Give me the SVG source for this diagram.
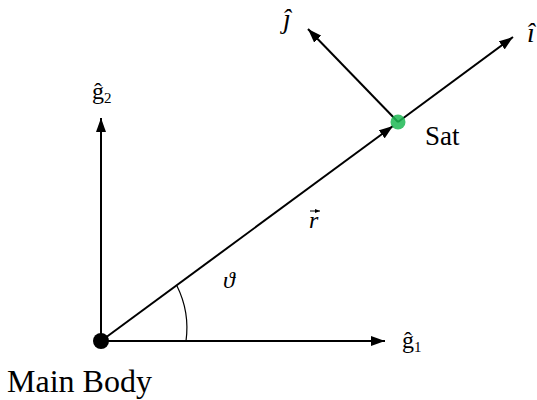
<svg xmlns="http://www.w3.org/2000/svg" width="537" height="400" viewBox="0 0 537 400">
<defs>
<style>
.ax{stroke:#000;stroke-width:2;fill:none}
.lbl{fill:#000}
</style>
<marker id="ah" viewBox="0 0 14 10" refX="14" refY="5" markerWidth="14" markerHeight="10" markerUnits="userSpaceOnUse" orient="auto">
<path d="M0,0 L14,5 L0,10 z" fill="#000"/>
</marker>
<marker id="vec" viewBox="0 0 5 4" refX="5" refY="2" markerWidth="5" markerHeight="4" markerUnits="userSpaceOnUse" orient="auto">
<path d="M0,0 L5,2 L0,4 z" fill="#000"/>
</marker>
</defs>
<rect width="537" height="400" fill="#fff"/>
<g id="connectors">
<line class="ax" x1="101" y1="341" x2="385" y2="341" marker-end="url(#ah)"/>
<line class="ax" x1="101" y1="341" x2="101" y2="118" marker-end="url(#ah)"/>
<line class="ax" x1="101" y1="341" x2="393" y2="126" marker-end="url(#ah)"/>
<line class="ax" x1="398" y1="122" x2="513" y2="37" marker-end="url(#ah)"/>
<line class="ax" x1="398" y1="122" x2="308" y2="29" marker-end="url(#ah)"/>
<path d="M186,341 A95,95 0 0 0 177,286" stroke="#000" stroke-width="1.2" fill="none"/>
</g>
<g id="main-body">
<circle cx="101" cy="341" r="8" fill="#000"/>
<text class="lbl" font-family="'Liberation Serif', 'Times New Roman', serif" x="7" y="392" font-size="32">Main Body</text>
</g>
<g id="sat">
<circle cx="398" cy="122" r="7.5" fill="#1db954" opacity="0.85"/>
<text class="lbl" font-family="'Liberation Serif', 'Times New Roman', serif" x="425" y="145" font-size="27">Sat</text>
</g>
<g id="label-g1">
<text class="lbl" font-family="'Liberation Serif', 'Times New Roman', serif" x="402" y="348" font-size="24">ĝ<tspan font-size="15" dy="4">1</tspan></text>
</g>
<g id="label-g2">
<text class="lbl" font-family="'Liberation Serif', 'Times New Roman', serif" x="92" y="99" font-size="24">ĝ<tspan font-size="15" dy="4">2</tspan></text>
</g>
<g id="label-i">
<text class="lbl" font-family="'Liberation Serif', 'Times New Roman', serif" font-style="italic" x="527" y="42" font-size="28">î</text>
</g>
<g id="label-j">
<text class="lbl" font-family="'Liberation Serif', 'Times New Roman', serif" font-style="italic" x="283" y="28" font-size="28">ĵ</text>
</g>
<g id="label-r">
<text class="lbl" font-family="'Liberation Serif', 'Times New Roman', serif" font-style="italic" x="309" y="228" font-size="24">r</text>
<line x1="310" y1="211" x2="320" y2="211" stroke="#000" stroke-width="1" marker-end="url(#vec)"/>
</g>
<g id="label-theta">
<text class="lbl" font-family="'Liberation Serif', 'Times New Roman', serif" font-style="italic" x="223" y="288" font-size="24">ϑ</text>
</g>
</svg>
